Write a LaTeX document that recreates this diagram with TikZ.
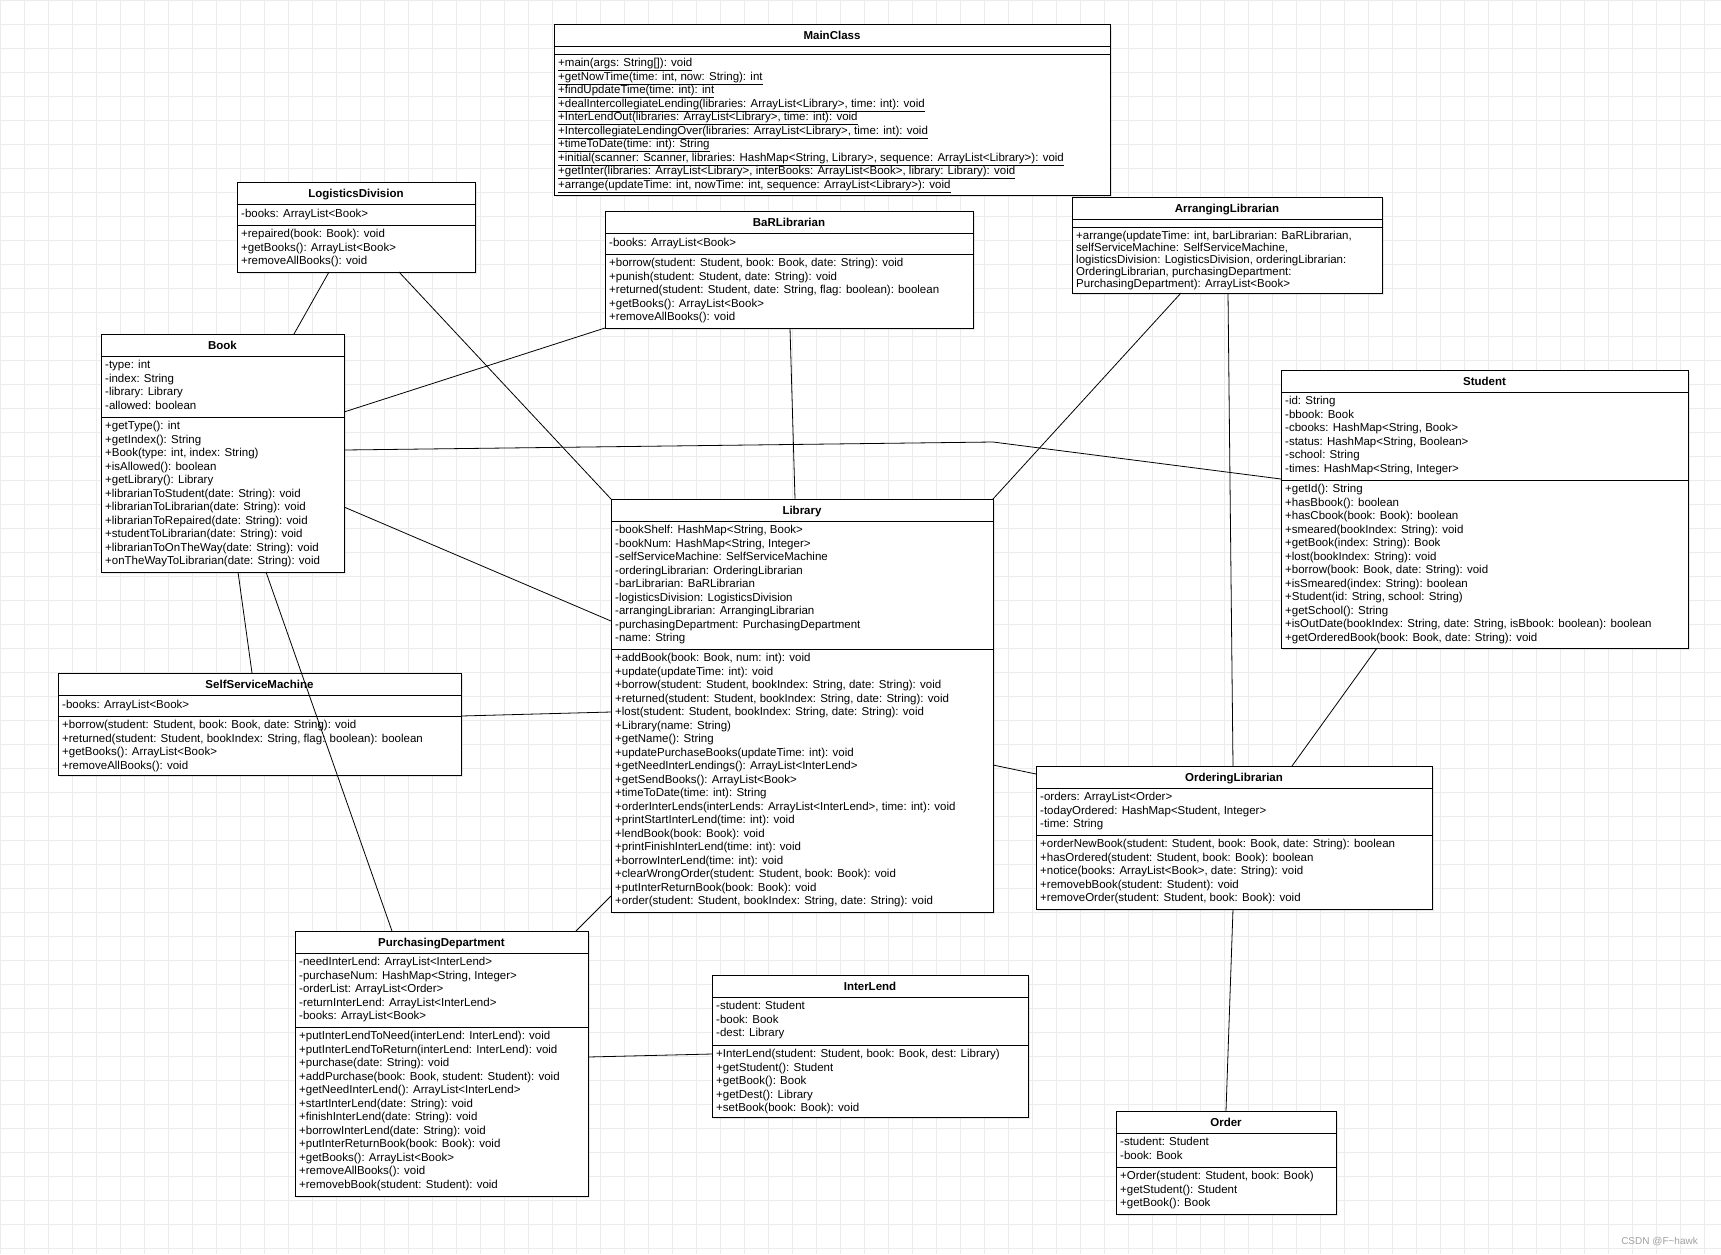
\documentclass[tikz,border=0pt]{standalone}
\usepackage{fontspec}
\setmainfont{Liberation Sans}
\usepackage{tikz}
\usetikzlibrary{
  calc,
  shadows
}
\definecolor{gridgray}{RGB}{236,236,236}
\definecolor{markgray}{RGB}{160,160,160}

\tikzset{
  classbox/.style={draw, line width=0.9pt, fill=white, inner sep=0pt, outer sep=0pt,
    drop shadow={opacity=0.18, shadow xshift=1.5pt, shadow yshift=-1.5pt}},
  classtitle/.style={anchor=base, inner sep=0pt, font=\fontsize{11.5}{13.5}\selectfont\bfseries},
  classline/.style={line width=0.9pt},
  members/.style={anchor=north west, align=left, inner sep=0pt,
    font=\fontsize{11.5}{13.5}\selectfont, execute at begin node=\strut},
  assoc/.style={line width=0.8pt}
}

\newcommand{\umlclass}[9][]{%
  \begin{scope}[#1]
  \node[classbox, minimum width=#5pt, minimum height=#6pt, anchor=north west] (#2) at (#3,#4) {};
  \node[classtitle] at ($(#2.north)+(0,15)$) {#2};
  \draw[classline] ($(#2.north west)+(0,22)$) -- ($(#2.north east)+(0,22)$);
  \draw[classline] ($(#2.north west)+(0,22+#7)$) -- ($(#2.north east)+(0,22+#7)$);
  \node[members] at ($(#2.north west)+(4,26)$) {#8};
  \node[members] at ($(#2.north west)+(4,26+#7)$) {#9};
  \end{scope}}

\begin{document}
\begin{tikzpicture}[x=1pt, y=-1pt]
  \useasboundingbox (0,0) rectangle (1721,1254);
  \fill[white] (0,0) rectangle (1721,1254);
  \draw[gridgray, line width=0.6pt, step=24pt] (0,0) grid (1721,1254);

  \umlclass{MainClass}{554}{24}{556}{171}{8}{}{%
    \underline{+main(args: String[]): void}\\
    \underline{+getNowTime(time: int, now: String): int}\\
    \underline{+findUpdateTime(time: int): int}\\
    \underline{+dealIntercollegiateLending(libraries: ArrayList<Library>, time: int): void}\\
    \underline{+InterLendOut(libraries: ArrayList<Library>, time: int): void}\\
    \underline{+IntercollegiateLendingOver(libraries: ArrayList<Library>, time: int): void}\\
    \underline{+timeToDate(time: int): String}\\
    \underline{+initial(scanner: Scanner, libraries: HashMap<String, Library>, sequence: ArrayList<Library>): void}\\
    \underline{+getInter(libraries: ArrayList<Library>, interBooks: ArrayList<Book>, library: Library): void}\\
    \underline{+arrange(updateTime: int, nowTime: int, sequence: ArrayList<Library>): void}}

  \umlclass{LogisticsDivision}{237}{182}{238}{90}{21}{-books: ArrayList<Book>}{%
    +repaired(book: Book): void\\
    +getBooks(): ArrayList<Book>\\
    +removeAllBooks(): void}

  \umlclass{BaRLibrarian}{605}{211}{368}{117}{21}{-books: ArrayList<Book>}{%
    +borrow(student: Student, book: Book, date: String): void\\
    +punish(student: Student, date: String): void\\
    +returned(student: Student, date: String, flag: boolean): boolean\\
    +getBooks(): ArrayList<Book>\\
    +removeAllBooks(): void}

  \umlclass[members/.append style={font=\fontsize{11.5}{12}\selectfont}]
    {ArrangingLibrarian}{1072}{197}{310}{96}{8}{}{%
    +arrange(updateTime: int, barLibrarian: BaRLibrarian,\\
    selfServiceMachine: SelfServiceMachine,\\
    logisticsDivision: LogisticsDivision, orderingLibrarian:\\
    OrderingLibrarian, purchasingDepartment:\\
    PurchasingDepartment): ArrayList<Book>}

  \umlclass{Book}{101}{334}{243}{238}{61}{%
    -type: int\\
    -index: String\\
    -library: Library\\
    -allowed: boolean}{%
    +getType(): int\\
    +getIndex(): String\\
    +Book(type: int, index: String)\\
    +isAllowed(): boolean\\
    +getLibrary(): Library\\
    +librarianToStudent(date: String): void\\
    +librarianToLibrarian(date: String): void\\
    +librarianToRepaired(date: String): void\\
    +studentToLibrarian(date: String): void\\
    +librarianToOnTheWay(date: String): void\\
    +onTheWayToLibrarian(date: String): void}

  \umlclass{Student}{1281}{370}{407}{278}{88}{%
    -id: String\\
    -bbook: Book\\
    -cbooks: HashMap<String, Book>\\
    -status: HashMap<String, Boolean>\\
    -school: String\\
    -times: HashMap<String, Integer>}{%
    +getId(): String\\
    +hasBbook(): boolean\\
    +hasCbook(book: Book): boolean\\
    +smeared(bookIndex: String): void\\
    +getBook(index: String): Book\\
    +lost(bookIndex: String): void\\
    +borrow(book: Book, date: String): void\\
    +isSmeared(index: String): boolean\\
    +Student(id: String, school: String)\\
    +getSchool(): String\\
    +isOutDate(bookIndex: String, date: String, isBbook: boolean): boolean\\
    +getOrderedBook(book: Book, date: String): void}

  \umlclass{Library}{611}{499}{382}{413}{128}{%
    -bookShelf: HashMap<String, Book>\\
    -bookNum: HashMap<String, Integer>\\
    -selfServiceMachine: SelfServiceMachine\\
    -orderingLibrarian: OrderingLibrarian\\
    -barLibrarian: BaRLibrarian\\
    -logisticsDivision: LogisticsDivision\\
    -arrangingLibrarian: ArrangingLibrarian\\
    -purchasingDepartment: PurchasingDepartment\\
    -name: String}{%
    +addBook(book: Book, num: int): void\\
    +update(updateTime: int): void\\
    +borrow(student: Student, bookIndex: String, date: String): void\\
    +returned(student: Student, bookIndex: String, date: String): void\\
    +lost(student: Student, bookIndex: String, date: String): void\\
    +Library(name: String)\\
    +getName(): String\\
    +updatePurchaseBooks(updateTime: int): void\\
    +getNeedInterLendings(): ArrayList<InterLend>\\
    +getSendBooks(): ArrayList<Book>\\
    +timeToDate(time: int): String\\
    +orderInterLends(interLends: ArrayList<InterLend>, time: int): void\\
    +printStartInterLend(time: int): void\\
    +lendBook(book: Book): void\\
    +printFinishInterLend(time: int): void\\
    +borrowInterLend(time: int): void\\
    +clearWrongOrder(student: Student, book: Book): void\\
    +putInterReturnBook(book: Book): void\\
    +order(student: Student, bookIndex: String, date: String): void}

  \umlclass{SelfServiceMachine}{58}{673}{403}{102}{21}{-books: ArrayList<Book>}{%
    +borrow(student: Student, book: Book, date: String): void\\
    +returned(student: Student, bookIndex: String, flag: boolean): boolean\\
    +getBooks(): ArrayList<Book>\\
    +removeAllBooks(): void}

  \umlclass{OrderingLibrarian}{1036}{766}{396}{143}{47}{%
    -orders: ArrayList<Order>\\
    -todayOrdered: HashMap<Student, Integer>\\
    -time: String}{%
    +orderNewBook(student: Student, book: Book, date: String): boolean\\
    +hasOrdered(student: Student, book: Book): boolean\\
    +notice(books: ArrayList<Book>, date: String): void\\
    +removebBook(student: Student): void\\
    +removeOrder(student: Student, book: Book): void}

  \umlclass{PurchasingDepartment}{295}{931}{293}{265}{74}{%
    -needInterLend: ArrayList<InterLend>\\
    -purchaseNum: HashMap<String, Integer>\\
    -orderList: ArrayList<Order>\\
    -returnInterLend: ArrayList<InterLend>\\
    -books: ArrayList<Book>}{%
    +putInterLendToNeed(interLend: InterLend): void\\
    +putInterLendToReturn(interLend: InterLend): void\\
    +purchase(date: String): void\\
    +addPurchase(book: Book, student: Student): void\\
    +getNeedInterLend(): ArrayList<InterLend>\\
    +startInterLend(date: String): void\\
    +finishInterLend(date: String): void\\
    +borrowInterLend(date: String): void\\
    +putInterReturnBook(book: Book): void\\
    +getBooks(): ArrayList<Book>\\
    +removeAllBooks(): void\\
    +removebBook(student: Student): void}

  \umlclass{InterLend}{712}{975}{316}{142}{48}{%
    -student: Student\\
    -book: Book\\
    -dest: Library}{%
    +InterLend(student: Student, book: Book, dest: Library)\\
    +getStudent(): Student\\
    +getBook(): Book\\
    +getDest(): Library\\
    +setBook(book: Book): void}

  \umlclass{Order}{1116}{1111}{220}{103}{34}{%
    -student: Student\\
    -book: Book}{%
    +Order(student: Student, book: Book)\\
    +getStudent(): Student\\
    +getBook(): Book}

  % associations
  \draw[assoc] ($(LogisticsDivision.south west)+(92,0)$) -- ($(Book.north west)+(193,0)$);
  \draw[assoc] ($(LogisticsDivision.south west)+(162,0)$) -- (Library.north west);
  \draw[assoc] (BaRLibrarian.south west) -- ($(Book.north east)+(0,78)$);
  \draw[assoc] ($(BaRLibrarian.south west)+(185,0)$) -- ($(Library.north west)+(184,0)$);
  \draw[assoc] ($(ArrangingLibrarian.south west)+(109,0)$) -- (Library.north east);
  \draw[assoc] ($(ArrangingLibrarian.south west)+(156,0)$) -- ($(OrderingLibrarian.north west)+(197,0)$);
  \draw[assoc] ($(Book.north east)+(0,116)$) -- ($(Library.north east)+(0,-57)$)
    -- ($(Student.north west)+(0,109)$);
  \draw[assoc] ($(Book.north east)+(0,173)$) -- ($(Library.north west)+(0,122)$);
  \draw[assoc] ($(Book.south west)+(137,0)$) -- ($(SelfServiceMachine.north west)+(194,0)$);
  \draw[assoc] ($(Book.south west)+(165,0)$) -- ($(PurchasingDepartment.north west)+(97,0)$);
  \draw[assoc] ($(SelfServiceMachine.north east)+(0,43)$) -- ($(Library.north west)+(0,213)$);
  \draw[assoc] ($(Library.south west)+(0,-16)$) -- ($(PurchasingDepartment.north east)+(-12,0)$);
  \draw[assoc] ($(Library.north east)+(0,266)$) -- ($(OrderingLibrarian.north west)+(0,8)$);
  \draw[assoc] ($(Student.south west)+(96,0)$) -- ($(OrderingLibrarian.north west)+(256,0)$);
  \draw[assoc] ($(OrderingLibrarian.south west)+(197,0)$) -- ($(Order.north west)+(110,0)$);
  \draw[assoc] ($(PurchasingDepartment.north east)+(0,126)$) -- ($(InterLend.north west)+(0,79)$);

  \node[anchor=east, inner sep=0pt, font=\fontsize{10}{12}\selectfont, text=markgray]
    (csdnmark) at (1698,1242) {CSDN @F\textasciitilde hawk};
\end{tikzpicture}
\end{document}
